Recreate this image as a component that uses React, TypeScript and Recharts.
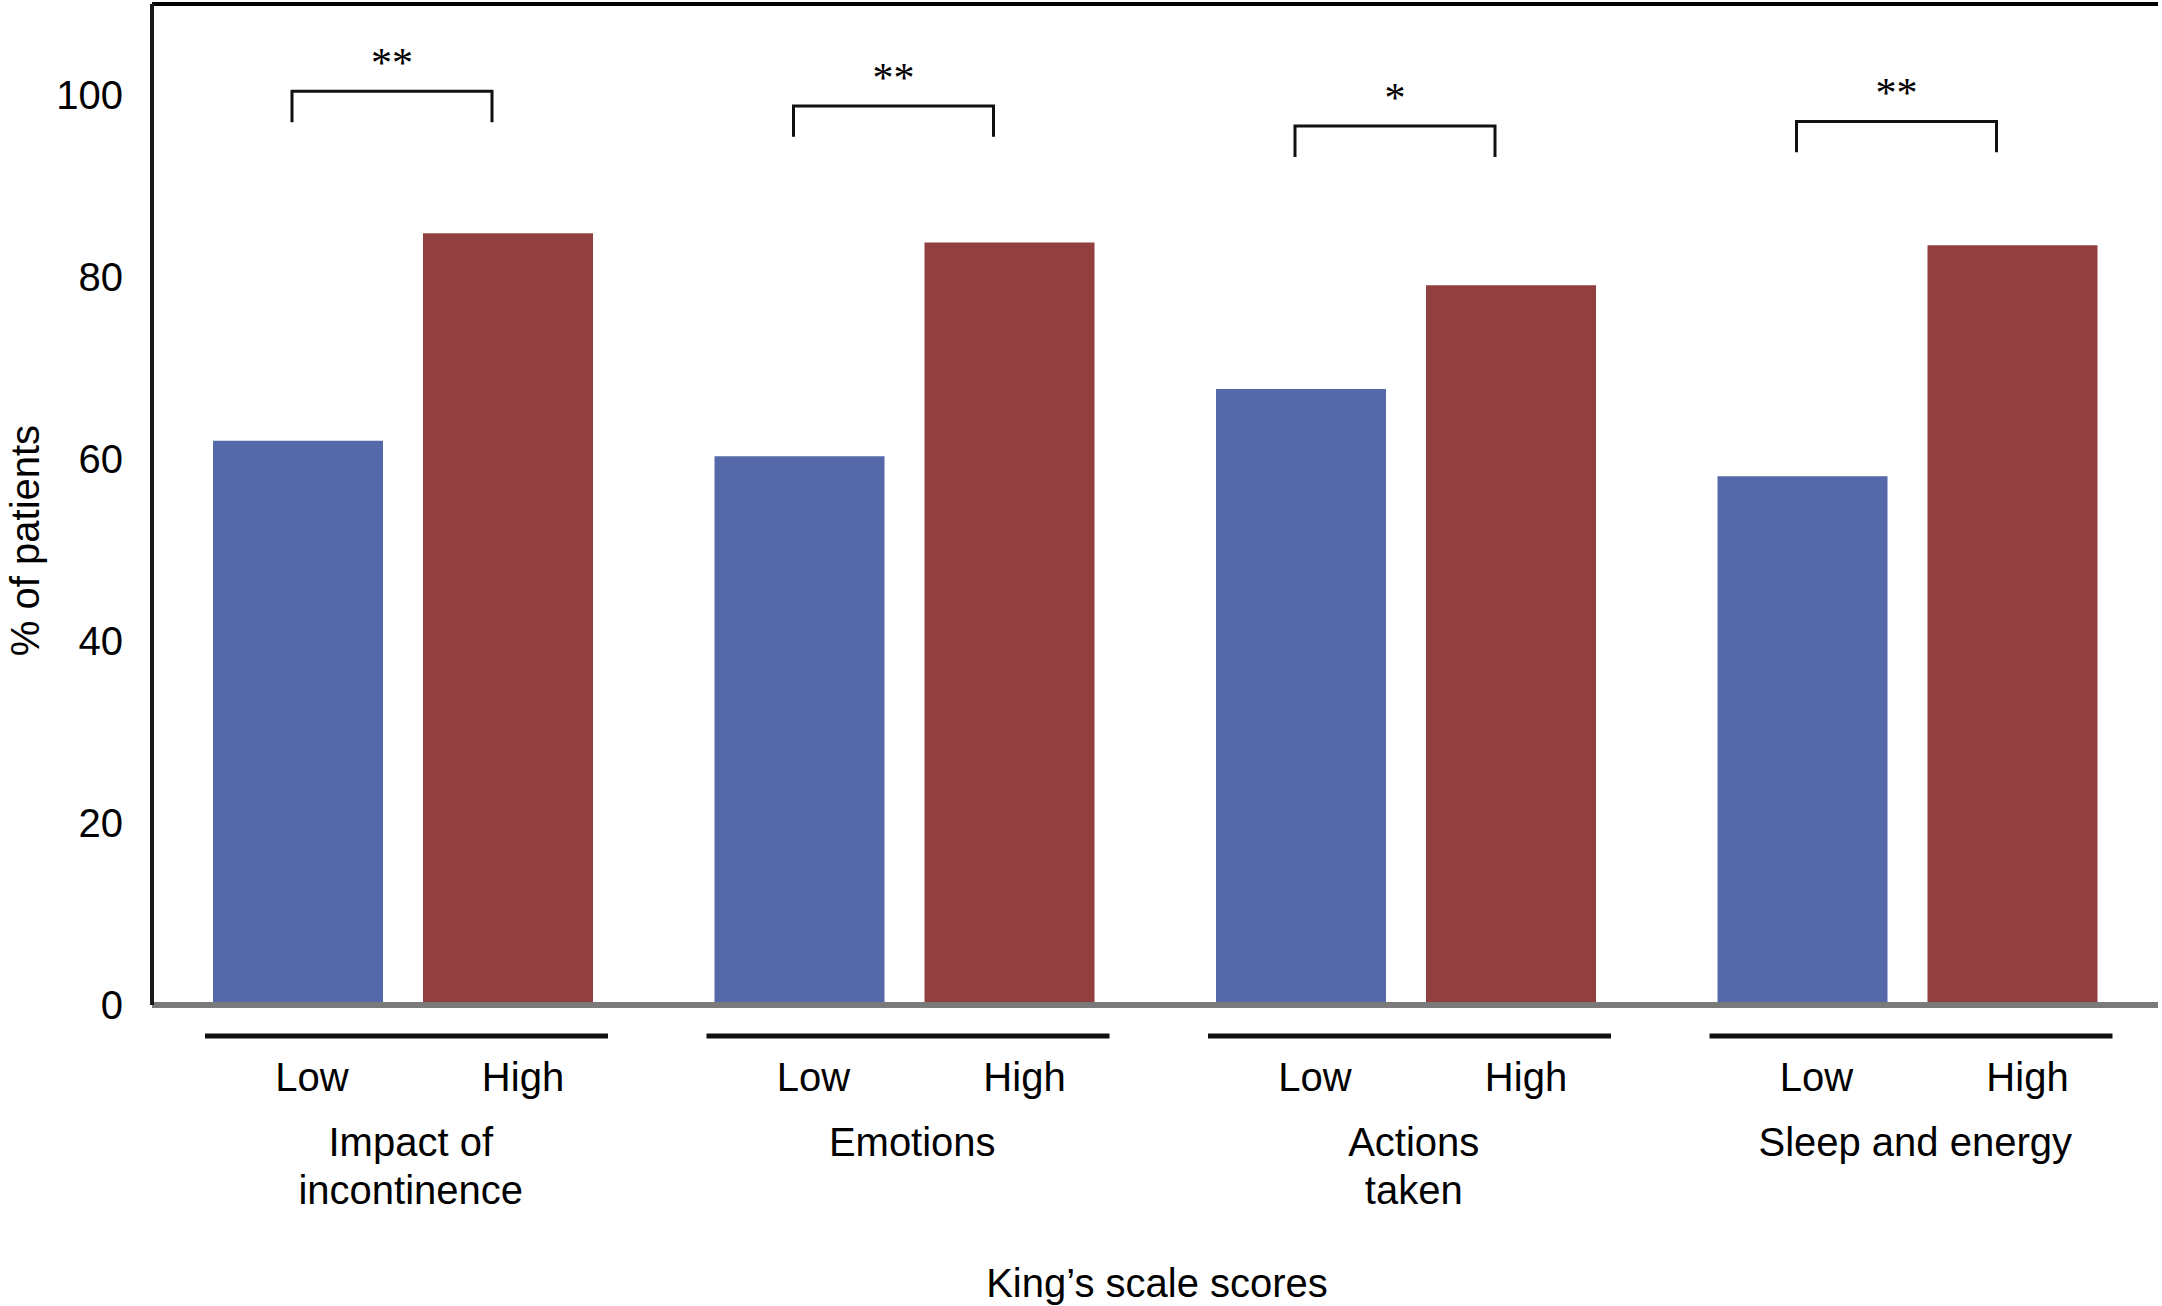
import React from "react";
import { BarChart, Bar, XAxis, YAxis, LabelList, ReferenceLine } from "recharts";

// King's scale domains and values (% of patients)
const categories = ["Impact of incontinence", "Emotions", "Actions taken", "Sleep and energy"];
const categoryLines = [["Impact of", "incontinence"], ["Emotions"], ["Actions", "taken"], ["Sleep and energy"]];
const lowValues = [62.0, 60.3, 67.7, 58.1];
const highValues = [84.8, 83.8, 79.1, 83.5];
const significance = ["**", "**", "*", "**"];
const bracketTop = [100.4, 98.8, 96.6, 97.1];
const bracketLeg = 3.4;
const yTicks = [0, 20, 40, 60, 80, 100];

const data = categories.map((name, i) => ({ name, low: lowValues[i], high: highValues[i] }));

const SANS = "'Liberation Sans', Arial, Helvetica, sans-serif";
const SERIF = "'Liberation Serif', 'Times New Roman', serif";
const BAR_GAP = 40;

function box(props: any) {
  const vb = props.viewBox || {};
  return {
    x: props.x ?? vb.x,
    y: props.y ?? vb.y,
    width: props.width ?? vb.width,
    height: props.height ?? vb.height,
  };
}

function LowLabel(props: any) {
  const { x, y, width, height } = box(props);
  const base = y + height;
  return (
    <text x={x + width / 2 + 14} y={base + 86} textAnchor="middle" fontFamily={SANS} fontSize={40} fill="#000">
      Low
    </text>
  );
}

function HighLabel(props: any) {
  const { x, y, width, height } = box(props);
  const i = props.index;
  const base = y + height;
  const perUnit = height / highValues[i];
  const yOf = (v: number) => base - v * perUnit;
  const lowCenter = x + width / 2 - width - BAR_GAP;
  const highCenter = x + width / 2;
  const bl = lowCenter - 6;
  const br = highCenter - 16;
  const top = yOf(bracketTop[i]);
  const leg = yOf(bracketTop[i] - bracketLeg);
  return (
    <g>
      <text x={highCenter + 15} y={base + 86} textAnchor="middle" fontFamily={SANS} fontSize={40} fill="#000">
        High
      </text>
      <line
        x1={x - BAR_GAP - width - 8}
        x2={x + width + 15}
        y1={base + 31}
        y2={base + 31}
        stroke="#111"
        strokeWidth={5}
      />
      <polyline
        points={`${bl},${leg} ${bl},${top} ${br},${top} ${br},${leg}`}
        fill="none"
        stroke="#111"
        strokeWidth={3}
      />
      <text x={(bl + br) / 2} y={top - 14} textAnchor="middle" fontFamily={SERIF} fontSize={42} fill="#000">
        {significance[i]}
      </text>
    </g>
  );
}

function CategoryTick(props: any) {
  const { x, y, payload } = props;
  const lines = categoryLines[payload.index] || [payload.value];
  return (
    <g>
      {lines.map((l, k) => (
        <text key={k} x={x + 8} y={y + 151 + k * 48} textAnchor="middle" fontFamily={SANS} fontSize={40} fill="#000">
          {l}
        </text>
      ))}
    </g>
  );
}

function XTitle(props: any) {
  const vb = props.viewBox;
  return (
    <text x={vb.x + vb.width / 2 + 2} y={vb.y + 292} textAnchor="middle" fontFamily={SANS} fontSize={40} fill="#000">
      King’s scale scores
    </text>
  );
}

function YTitle(props: any) {
  const vb = props.viewBox;
  const cx = vb.x + 25;
  const cy = vb.y + vb.height / 2 + 36;
  return (
    <text
      x={cx}
      y={cy}
      dy="0.35em"
      transform={`rotate(-90, ${cx}, ${cy})`}
      textAnchor="middle"
      fontFamily={SANS}
      fontSize={40}
      fill="#000"
    >
      % of patients
    </text>
  );
}

export default function App() {
  return (
    <div style={{ width: 2162, height: 1306, background: "#fff" }}>
      <style>{`body{margin:0;background:#fff}`}</style>
      <BarChart
        width={2162}
        height={1306}
        data={data}
        margin={{ top: 4, right: 4, bottom: 0, left: 0 }}
        barCategoryGap={61}
        barGap={BAR_GAP}
      >
        <XAxis
          dataKey="name"
          height={301}
          tickLine={false}
          tickSize={0}
          tickMargin={0}
          interval={0}
          axisLine={{ stroke: "#7a7a7a", strokeWidth: 6 }}
          tick={<CategoryTick />}
          label={{ content: <XTitle /> }}
        />
        <YAxis
          width={152}
          domain={[0, 110]}
          ticks={yTicks}
          tickLine={false}
          tickSize={0}
          tickMargin={29}
          axisLine={{ stroke: "#1a1a1a", strokeWidth: 4 }}
          tick={{ fill: "#000", fontSize: 40, fontFamily: SANS }}
          label={{ content: <YTitle /> }}
        />
        <YAxis
          yAxisId="frame"
          orientation="right"
          width={0}
          domain={[0, 110]}
          tick={false}
          tickLine={false}
          axisLine={{ stroke: "#000", strokeWidth: 4 }}
        />
        <ReferenceLine y={110} stroke="#000" strokeWidth={4} />
        <Bar dataKey="low" fill="#5468aa" isAnimationActive={false}>
          <LabelList dataKey="low" content={<LowLabel />} />
        </Bar>
        <Bar dataKey="high" fill="#923f3f" isAnimationActive={false}>
          <LabelList dataKey="high" content={<HighLabel />} />
        </Bar>
      </BarChart>
    </div>
  );
}
